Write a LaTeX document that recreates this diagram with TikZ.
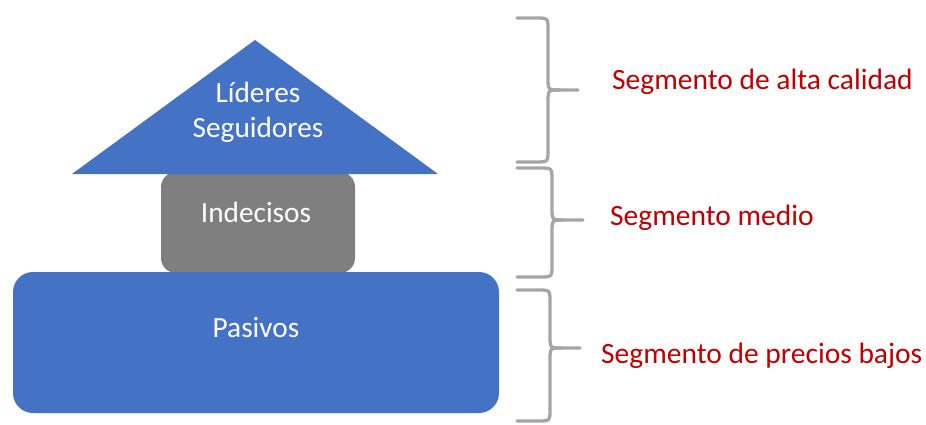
\documentclass[tikz,border=0pt]{standalone}
\usepackage{fontspec}
\setmainfont{Carlito}
\definecolor{blueshape}{HTML}{4472C4}
\definecolor{grayshape}{HTML}{7F7F7F}
\definecolor{segred}{HTML}{C00000}
\definecolor{bracegray}{HTML}{A5A5A5}
\tikzset{
  whitetxt/.style={text=white, font=\fontsize{29.3}{35}\selectfont, inner sep=0pt, align=center},
  segtxt/.style={text=segred, font=\fontsize{29.5}{35}\selectfont, inner sep=0pt, anchor=west},
  bracestyle/.style={draw=bracegray, line width=3.3pt, line cap=round, line join=round},
}
% #1 left x, #2 vertical x, #3 tip x, #4 top y, #5 mid y, #6 bottom y
\newcommand{\mybrace}[6]{%
  \draw[bracestyle] (#1,#4) -- ({#2-12},#4) .. controls (#2,#4) .. ({#2},{#4+12})
    -- ({#2},{#5-12}) .. controls (#2,#5) .. ({#2+12},#5) -- (#3,#5);
  \draw[bracestyle] (#1,#6) -- ({#2-12},#6) .. controls (#2,#6) .. ({#2},{#6-12})
    -- ({#2},{#5+12}) .. controls (#2,#5) .. ({#2+12},#5);
}
\begin{document}
\begin{tikzpicture}[x=1pt,y=-1pt]
\useasboundingbox (0,0) rectangle (926,424);
% middle box
\node[fill=grayshape, rounded corners=15pt, minimum width=194pt, minimum height=101pt, inner sep=0pt] (indec) at (258,222.5) {};
% triangle
\fill[blueshape] (255,40) -- (438,174) -- (72,174) -- cycle;
\node[whitetxt] (lideres) at (258,92) {Líderes};
\node[whitetxt] (seguid) at (258,130) {Seguidores};
% bottom box
\node[fill=blueshape, rounded corners=20pt, minimum width=486pt, minimum height=141pt, inner sep=0pt] (pasivos) at (256,342.5) {};
\node[whitetxt] (indectxt) at (256,212) {Indecisos};
\node[whitetxt] (pastxt) at (256,328) {Pasivos};
% braces
\mybrace{517}{548}{578}{18}{90}{162}
\mybrace{517}{552}{583}{168}{220}{277}
\mybrace{517}{550}{580}{290}{348}{421}
% labels
\node[segtxt] (alta) at (612,82) {Segmento de alta calidad};
\node[segtxt] (medio) at (610,218) {Segmento medio};
\node[segtxt] (bajos) at (601,356) {Segmento de precios bajos};
\end{tikzpicture}
\end{document}
